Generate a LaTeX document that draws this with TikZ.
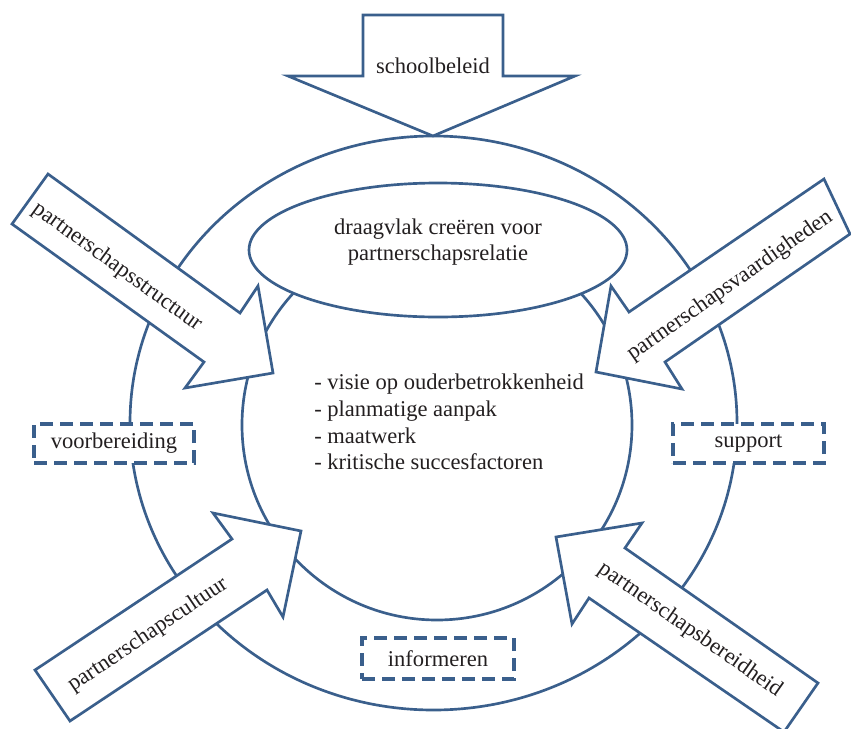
\documentclass[tikz,border=0pt]{standalone}
\usepackage{fontspec}
\setmainfont{Liberation Serif}
\definecolor{ringblue}{RGB}{58,95,140}
\definecolor{inktext}{RGB}{35,31,32}

\begin{document}
\begin{tikzpicture}[x=0.75pt,y=0.75pt,yscale=-1,
  ring/.style={draw=ringblue,line width=2pt},
  blockarrow/.style={draw=ringblue,fill=white,line width=2pt,line join=miter},
  dashbox/.style={draw=ringblue,fill=white,line width=2.4pt,dash pattern=on 9.5pt off 5.5pt,
    inner sep=0pt,text=inktext,font=\fontsize{16.9}{20}\selectfont},
  lbl/.style={text=inktext,inner sep=0pt,font=\fontsize{16.9}{20}\selectfont}]
\useasboundingbox (0,0) rectangle (851,729);

%Shape: Outer ring
\draw [ring] (433.5,423) ellipse [x radius=303.5, y radius=287];
%Shape: Inner circle
\draw [ring] (437,425) circle [radius=195];
%Shape: Ellipse
\draw [ring,fill=white] (438,250) ellipse [x radius=189, y radius=67];

% Dashed boxes
\node [dashbox,minimum width=120pt,minimum height=29.25pt] (voorbereiding) at (114,443.5) {voorbereiding};
\node [dashbox,minimum width=113.25pt,minimum height=29.25pt] (support) at (748.5,443.5) {support};
\node [dashbox,minimum width=114pt,minimum height=30.75pt] (informeren) at (438,658.5) {informeren};

%Shape: Block arrow down
\draw [blockarrow] (363,15) -- (503,15) -- (503,76) -- (575,76) -- (433,136) -- (288,76) -- (363,76) -- cycle ;
%Shape: Block arrow top left
\draw [blockarrow] (48,174) -- (240,313) -- (258,286) -- (273,373) -- (185,388) -- (204,362) -- (12,224) -- cycle ;
%Shape: Block arrow top right
\draw [blockarrow] (824,179) -- (629,312) -- (611,286) -- (596,372) -- (682,389) -- (665,362) -- (850,234) -- cycle ;
%Shape: Block arrow bottom left
\draw [blockarrow] (35,670) -- (232,539) -- (213,513) -- (301,531) -- (283,617) -- (267,590) -- (70,721) -- cycle ;
%Shape: Block arrow bottom right
\draw [blockarrow] (556,537) -- (642,523) -- (625,548) -- (818,683) -- (784,732) -- (589,598) -- (572,624) -- cycle ;

% Text Node
\node [lbl] (schoolbeleid) at (433,66) {schoolbeleid};
% Text Node
\node [lbl,align=center] (draagvlak) at (438,242) {draagvlak creëren voor\\partnerschapsrelatie};
% Text Node
\node [lbl,align=left,anchor=north west] (aanpak) at (314,374) {- visie op ouderbetrokkenheid\\- planmatige aanpak\\- maatwerk\\- kritische succesfactoren};
% Text Node
\node [lbl,rotate=-36] (structuur) at (117,267) {partnerschapsstructuur};
% Text Node
\node [lbl,rotate=35] (vaardigheden) at (730,286) {partnerschapsvaardigheden};
% Text Node
\node [lbl,rotate=34] (cultuur) at (148,635) {partnerschapscultuur};
% Text Node
\node [lbl,rotate=-35] (bereidheid) at (690,630) {partnerschapsbereidheid};

\end{tikzpicture}
\end{document}
